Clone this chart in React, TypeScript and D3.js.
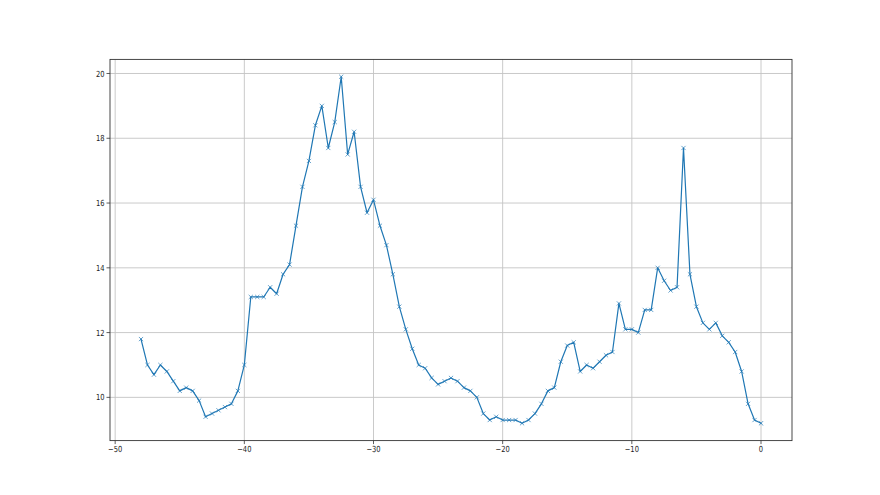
import React from "react";
import * as d3 from "d3";

const xValues: number[] = [
  -48, -47.5, -47, -46.5, -46, -45.5, -45, -44.5, -44, -43.5, -43, -42.5, -42, -41.5, -41, -40.5,
  -40, -39.5, -39, -38.5, -38, -37.5, -37, -36.5, -36, -35.5, -35, -34.5, -34, -33.5, -33, -32.5,
  -32, -31.5, -31, -30.5, -30, -29.5, -29, -28.5, -28, -27.5, -27, -26.5, -26, -25.5, -25, -24.5,
  -24, -23.5, -23, -22.5, -22, -21.5, -21, -20.5, -20, -19.5, -19, -18.5, -18, -17.5, -17, -16.5,
  -16, -15.5, -15, -14.5, -14, -13.5, -13, -12.5, -12, -11.5, -11, -10.5, -10, -9.5, -9, -8.5,
  -8, -7.5, -7, -6.5, -6, -5.5, -5, -4.5, -4, -3.5, -3, -2.5, -2, -1.5, -1, -0.5, 0,
];

const yValues: number[] = [
  11.8, 11.0, 10.7, 11.0, 10.8, 10.5, 10.2, 10.3, 10.2, 9.9, 9.4, 9.5, 9.6, 9.7, 9.8, 10.2,
  11.0, 13.1, 13.1, 13.1, 13.4, 13.2, 13.8, 14.1, 15.3, 16.5, 17.3, 18.4, 19.0, 17.7, 18.5, 19.9,
  17.5, 18.2, 16.5, 15.7, 16.1, 15.3, 14.7, 13.8, 12.8, 12.1, 11.5, 11.0, 10.9, 10.6, 10.4, 10.5,
  10.6, 10.5, 10.3, 10.2, 10.0, 9.5, 9.3, 9.4, 9.3, 9.3, 9.3, 9.2, 9.3, 9.5, 9.8, 10.2,
  10.3, 11.1, 11.6, 11.7, 10.8, 11.0, 10.9, 11.1, 11.3, 11.4, 12.9, 12.1, 12.1, 12.0, 12.7, 12.7,
  14.0, 13.6, 13.3, 13.4, 17.7, 13.8, 12.8, 12.3, 12.1, 12.3, 11.9, 11.7, 11.4, 10.8, 9.8, 9.3, 9.2,
];

const xTicks: number[] = [-50, -40, -30, -20, -10, 0];
const yTicks: number[] = [10, 12, 14, 16, 18, 20];

const W = 880;
const H = 495;
const left = 110;
const right = 792;
const top = 59.4;
const bottom = 440.6;

const fmt = (v: number) => (v < 0 ? "\u2212" + Math.abs(v) : String(v));

export default function App() {
  const [xmin, xmax] = d3.extent(xValues) as [number, number];
  const [ymin, ymax] = d3.extent(yValues) as [number, number];
  const xPad = (xmax - xmin) * 0.05;
  const yPad = (ymax - ymin) * 0.05;
  const x = d3.scaleLinear().domain([xmin - xPad, xmax + xPad]).range([left, right]);
  const y = d3.scaleLinear().domain([ymin - yPad, ymax + yPad]).range([bottom, top]);
  const pts: [number, number][] = xValues.map((v, i) => [x(v), y(yValues[i])]);
  const path = d3.line()(pts) || "";
  const ms = 2.1;
  const font = "DejaVu Sans, sans-serif";
  const fs = 8.4;
  const sx = 0.8;

  return (
    <svg
      width={W}
      height={H}
      style={{ position: "absolute", left: 0, top: 0, background: "#fff" }}
    >
      <rect x={0} y={0} width={W} height={H} fill="#fff" />
      {xTicks.map((t) => (
        <line key={"gx" + t} x1={x(t)} x2={x(t)} y1={top} y2={bottom} stroke="#c4c4c4" strokeWidth={0.9} />
      ))}
      {yTicks.map((t) => (
        <line key={"gy" + t} x1={left} x2={right} y1={y(t)} y2={y(t)} stroke="#c4c4c4" strokeWidth={0.9} />
      ))}
      <path d={path} fill="none" stroke="#1f77b4" strokeWidth={1.2} strokeLinejoin="round" strokeLinecap="square" />
      {pts.map(([px, py], i) => (
        <path
          key={"m" + i}
          d={`M${px - ms},${py - ms}L${px + ms},${py + ms}M${px - ms},${py + ms}L${px + ms},${py - ms}`}
          stroke="#1f77b4"
          strokeOpacity={0.75}
          strokeWidth={0.9}
          fill="none"
        />
      ))}
      <rect x={left} y={top} width={right - left} height={bottom - top} fill="none" stroke="#333" strokeWidth={0.9} />
      {xTicks.map((t) => (
        <g key={"tx" + t}>
          <line x1={x(t)} x2={x(t)} y1={bottom} y2={bottom + 3.5} stroke="#333" strokeWidth={0.8} />
          <text
            transform={`translate(${x(t)},${bottom + 11.5}) scale(${sx},1)`}
            textAnchor="middle"
            fontSize={fs}
            fontFamily={font}
            fill="#222"
          >
            {fmt(t)}
          </text>
        </g>
      ))}
      {yTicks.map((t) => (
        <g key={"ty" + t}>
          <line x1={left - 3.5} x2={left} y1={y(t)} y2={y(t)} stroke="#333" strokeWidth={0.8} />
          <text
            transform={`translate(${left - 5.5},${y(t)}) scale(${sx},1)`}
            dy="0.36em"
            textAnchor="end"
            fontSize={fs}
            fontFamily={font}
            fill="#222"
          >
            {fmt(t)}
          </text>
        </g>
      ))}
    </svg>
  );
}
